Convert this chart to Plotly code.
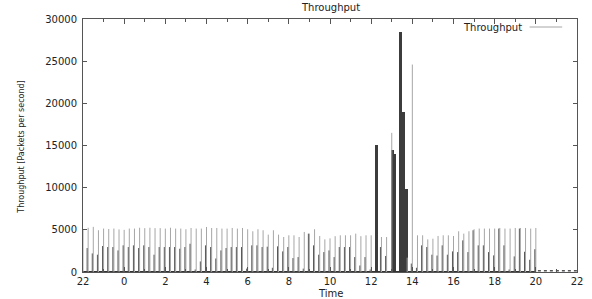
import plotly.graph_objects as go

# ---- data (hours; 22:00 of the previous day shown as -2) ----
slot_times = [-2.0, -1.75, -1.5, -1.25, -1.0, -0.75, -0.5, -0.25,
              0.0, 0.25, 0.5, 0.75, 1.0, 1.25, 1.5, 1.75,
              2.0, 2.25, 2.5, 2.75, 3.0, 3.25, 3.5, 3.75,
              4.0, 4.25, 4.5, 4.75, 5.0, 5.25, 5.5, 5.75,
              6.0, 6.25, 6.5, 6.75, 7.0, 7.25, 7.5, 7.75,
              8.0, 8.25, 8.5, 8.75, 9.0, 9.25, 9.5, 9.75,
              10.0, 10.25, 10.5, 10.75, 11.0, 11.25, 11.5, 11.75,
              12.0, 12.25, 12.5, 12.75, 13.0, 13.25, 13.5, 13.75,
              14.0, 14.25, 14.5, 14.75, 15.0, 15.25, 15.5, 15.75,
              16.0, 16.25, 16.5, 16.75, 17.0, 17.25, 17.5, 17.75,
              18.0, 18.25, 18.5, 18.75, 19.0, 19.25, 19.5, 19.75,
              20.0]

peak_vals = [5000, 5250, 5350, 4950, 5150, 5100, 5150, 5050,
             5000, 5150, 5150, 5250, 5200, 5250, 5200, 5200,
             5150, 5250, 5150, 5150, 5070, 5220, 5150, 5150,
             5340, 5220, 5220, 5150, 5150, 5220, 5150, 5220,
             5070, 4830, 5070, 4950, 4430, 4950, 4430, 4150,
             4350, 4350, 4150, 4750, 4550, 5070, 4270, 3870,
             3990, 4250, 4350, 4350, 4350, 4550, 4250, 4350,
             4350, 0, 4150, 4150, 16500, 0, 0, 1700,
             24600, 4350, 4350, 3870, 3950, 4270, 4350, 4350,
             4270, 4830, 4550, 4830, 5070, 5150, 5150, 5150,
             5150, 5220, 5150, 5150, 5220, 5220, 5220, 5150,
             5220]

second_vals = [3160, 2840, 2200, 2050, 3080, 2960, 2960, 2560,
               3160, 2960, 3160, 2840, 3160, 2960, 2050, 2960,
               2960, 2960, 2960, 2760, 2960, 3350, 300, 1250,
               3160, 2960, 1600, 2560, 2840, 2960, 2960, 2960,
               400, 3160, 3160, 2960, 3000, 500, 3040, 2440,
               2960, 1650, 1770, 400, 4550, 3160, 2050, 2360,
               2560, 1770, 2960, 2960, 2960, 1770, 770, 1770,
               300, 0, 2960, 1900, 0, 0, 0, 0,
               1000, 500, 3160, 2960, 2050, 1950, 3160, 2050,
               2440, 2360, 3750, 2360, 4950, 3160, 3160, 2360,
               1970, 5150, 3160, 300, 1850, 5150, 2400, 1450,
               2700]

burst_times = [12.27, 13.05, 13.14, 13.42, 13.56, 13.71]
burst_vals = [15100, 14500, 14000, 28400, 19000, 9900]

tail_times = [20.1, 22.0]
tail_vals = [150, 150]

tick_vals = [-2, 0, 2, 4, 6, 8, 10, 12, 14, 16, 18, 20, 22]
tick_text = ["22", "0", "2", "4", "6", "8", "10", "12", "14", "16", "18", "20", "22"]
minor_vals = [-1, 1, 3, 5, 7, 9, 11, 13, 15, 17, 19, 21]


def impulses(ts, vs, shift=0.0):
    xs, ys = [], []
    for t, v in zip(ts, vs):
        if v <= 0:
            continue
        xs += [t + shift, t + shift, None]
        ys += [0, v, None]
    return xs, ys


FONT = "DejaVu Sans"
fig = go.Figure()

# baseline of impulses
fig.add_trace(go.Scatter(x=[slot_times[0], slot_times[-1]], y=[0, 0], mode="lines",
                         line=dict(color="#333333", width=2), hoverinfo="skip"))
# tail near zero after 20:00
fig.add_trace(go.Scatter(x=tail_times, y=tail_vals, mode="lines",
                         line=dict(color="#555555", width=1.5, dash="dot"), hoverinfo="skip"))

# burst bars
fig.add_trace(go.Bar(x=burst_times, y=burst_vals, width=0.14,
                     marker=dict(color="#3c3c3c", line=dict(width=0))))

lx, ly = impulses(slot_times, peak_vals)
fig.add_trace(go.Scatter(x=lx, y=ly, mode="lines",
                         line=dict(color="#a6a6a6", width=1), name="Throughput"))
dx, dy = impulses(slot_times, second_vals, shift=-0.05)
fig.add_trace(go.Scatter(x=dx, y=dy, mode="lines",
                         line=dict(color="#585858", width=1), hoverinfo="skip"))

L, R, T, B = 83, 9, 19, 27
W, H = 592, 299
pw, ph = W - L - R, H - T - B


def px(x):
    return (x - L) / pw


def py(y):
    return (H - B - y) / ph


axis_common = dict(showline=True, linecolor="#555555", linewidth=1, mirror="ticks",
                   ticks="inside", tickcolor="#555555", showgrid=False, zeroline=False,
                   tickfont=dict(family=FONT, size=10, color="#222222"))

fig.update_layout(
    width=W, height=H,
    margin=dict(l=L, r=R, t=T, b=B, pad=0),
    paper_bgcolor="white", plot_bgcolor="white",
    showlegend=False, bargap=0,
    xaxis=dict(range=[-2, 22], tickmode="array", tickvals=tick_vals, ticktext=tick_text,
               ticklen=5,
               minor=dict(tickmode="array", tickvals=minor_vals, ticks="inside",
                          ticklen=3, tickcolor="#555555"),
               **axis_common),
    yaxis=dict(range=[0, 30000], tickmode="array",
               tickvals=[0, 5000, 10000, 15000, 20000, 25000, 30000],
               ticktext=["0", "5000", "10000", "15000", "20000", "25000", "30000"],
               ticklen=4, ticklabelstandoff=3, **axis_common),
    annotations=[
        dict(text="Throughput", x=0.5, y=py(7), xref="paper", yref="paper",
             showarrow=False, xanchor="center", yanchor="middle",
             font=dict(family=FONT, size=10, color="#222222")),
        dict(text="Time", x=px(333), y=py(293), xref="paper", yref="paper",
             showarrow=False, xanchor="center", yanchor="middle",
             font=dict(family=FONT, size=10, color="#222222")),
        dict(text="Throughput [Packets per second]", x=px(20), y=py(147),
             xref="paper", yref="paper", showarrow=False, textangle=-90,
             xanchor="center", yanchor="middle",
             font=dict(family=FONT, size=8, color="#222222")),
        dict(text="Throughput", x=px(529), y=py(27), xref="paper", yref="paper",
             showarrow=False, xanchor="right", yanchor="middle",
             font=dict(family=FONT, size=10, color="#222222")),
    ],
    shapes=[dict(type="line", xref="paper", yref="paper",
                 x0=px(535), x1=px(568), y0=py(27), y1=py(27),
                 line=dict(color="#a6a6a6", width=1))],
)

fig.write_html("out.html", config={"displayModeBar": False},
               post_script="document.body.style.margin='0px';document.body.style.padding='0px';")
